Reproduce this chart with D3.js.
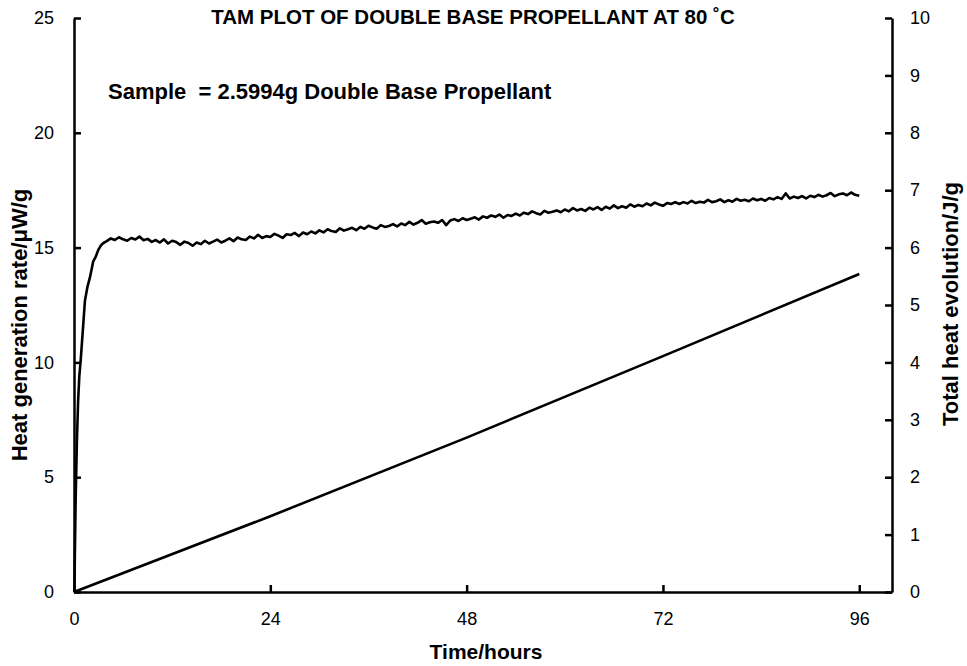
<!DOCTYPE html>
<html>
<head>
<meta charset="utf-8">
<script src="https://cdn.jsdelivr.net/npm/d3@7"></script>
<style>
  body { margin: 0; background: #fff; }
  svg { font-family: "Liberation Sans", Arial, sans-serif; }
</style>
</head>
<body>
<div id="vis"></div>
<script>
// frame
const FRAME_WIDTH = 967;
const FRAME_HEIGHT = 666;
const MARGINS = {left: 74, right: 75, top: 18, bottom: 74};
const VIS_WIDTH = FRAME_WIDTH - MARGINS.left - MARGINS.right;
const VIS_HEIGHT = FRAME_HEIGHT - MARGINS.top - MARGINS.bottom;

// data
const xTicks = [0, 24, 48, 72, 96];
const yLeftTicks = [0, 5, 10, 15, 20, 25];
const yRightTicks = [0, 1, 2, 3, 4, 5, 6, 7, 8, 9, 10];

// initial rise of heat generation rate (hours, uW/g)
const riseTime = [0, 0.05, 0.1, 0.2, 0.35, 0.5, 0.65, 0.82, 1.0, 1.34, 1.65, 1.95, 2.35, 2.65, 2.97, 3.3, 3.6];
const riseRate = [0, 0, 1.5, 4.0, 6.5, 8.3, 9.4, 10.1, 11.0, 12.7, 13.3, 13.7, 14.4, 14.6, 14.9, 15.1, 15.2];

// rest of the rate trace, one reading every half hour from 4 h
const traceStart = 4;
const traceStep = 0.5;
const traceRate = [
  15.28, 15.40, 15.33, 15.45, 15.36, 15.30, 15.42, 15.35, 15.48, 15.32,
  15.38, 15.25, 15.33, 15.22, 15.36, 15.18, 15.30, 15.24, 15.12, 15.26,
  15.20, 15.08, 15.22, 15.15, 15.30, 15.18, 15.26, 15.35, 15.22, 15.30,
  15.40, 15.28, 15.44, 15.36, 15.33, 15.48, 15.40, 15.56, 15.42, 15.50,
  15.46, 15.60, 15.52, 15.42, 15.58, 15.55, 15.64, 15.50, 15.66, 15.58,
  15.70, 15.62, 15.75, 15.66, 15.80, 15.72, 15.68, 15.84, 15.74, 15.80,
  15.86, 15.76, 15.90, 15.82, 15.95, 15.88, 15.82, 15.98, 15.90, 15.94,
  16.02, 15.92, 16.05, 15.98, 16.12, 16.00, 16.08, 16.20, 16.04, 16.10,
  16.14, 16.08, 16.20, 15.98, 16.18, 16.24, 16.16, 16.28, 16.20, 16.26,
  16.32, 16.22, 16.36, 16.30, 16.40, 16.34, 16.44, 16.30, 16.42, 16.38,
  16.48, 16.40, 16.52, 16.46, 16.58, 16.50, 16.44, 16.60, 16.52, 16.56,
  16.62, 16.54, 16.66, 16.58, 16.72, 16.62, 16.68, 16.60, 16.74, 16.66,
  16.76, 16.64, 16.78, 16.70, 16.84, 16.72, 16.80, 16.74, 16.88, 16.78,
  16.86, 16.80, 16.92, 16.84, 16.96, 16.88, 16.82, 16.94, 16.90, 16.98,
  16.90, 16.98, 16.92, 17.04, 16.94, 17.00, 16.96, 17.08, 16.98, 17.02,
  17.10, 16.98, 17.06, 17.00, 17.12, 17.04, 17.08, 17.02, 17.14, 17.06,
  17.12, 17.04, 17.16, 17.10, 17.20, 17.12, 17.36, 17.14, 17.22, 17.16,
  17.24, 17.14, 17.26, 17.20, 17.30, 17.22, 17.28, 17.38, 17.24, 17.32,
  17.36, 17.28, 17.40, 17.30, 17.26
];

// total heat evolution (hours, J/g)
const heatTime = [0, 24, 48, 72, 96];
const heatTotal = [0, 1.32, 2.69, 4.11, 5.54];

const FRAME = d3.select("#vis")
  .append("svg")
    .attr("width", FRAME_WIDTH)
    .attr("height", FRAME_HEIGHT);

const X_SCALE = d3.scaleLinear().domain([0, 100]).range([0, VIS_WIDTH]);
const Y_LEFT = d3.scaleLinear().domain([0, 25]).range([VIS_HEIGHT, 0]);
const Y_RIGHT = d3.scaleLinear().domain([0, 10]).range([VIS_HEIGHT, 0]);

const plot = FRAME.append("g")
  .attr("transform", "translate(" + MARGINS.left + "," + MARGINS.top + ")");

// build rate series
const rateData = riseTime.map((t, i) => ({t: t, v: riseRate[i]}))
  .concat(traceRate.map((v, i) => ({t: traceStart + i * traceStep, v: v})));
const heatData = heatTime.map((t, i) => ({t: t, v: heatTotal[i]}));

// axes (ticks point inward)
function styleAxis(g) {
  g.select(".domain").attr("stroke", "#000").attr("stroke-width", 2.5);
  g.selectAll(".tick line").attr("stroke", "#000").attr("stroke-width", 2.5);
  g.selectAll(".tick text").attr("fill", "#000")
    .attr("font-size", "18px").attr("font-family", "Liberation Sans, Arial, sans-serif");
}

plot.append("g")
  .attr("transform", "translate(0," + VIS_HEIGHT + ")")
  .call(d3.axisBottom(X_SCALE).tickValues(xTicks).tickSizeInner(-7).tickSizeOuter(0).tickPadding(20))
  .call(styleAxis);

plot.append("g")
  .call(d3.axisLeft(Y_LEFT).tickValues(yLeftTicks).tickSizeInner(-7).tickSizeOuter(0).tickPadding(20))
  .call(styleAxis);

plot.append("g")
  .attr("transform", "translate(" + VIS_WIDTH + ",0)")
  .call(d3.axisRight(Y_RIGHT).tickValues(yRightTicks).tickSizeInner(-7).tickSizeOuter(0).tickPadding(18))
  .call(styleAxis);

// lines
plot.append("path")
  .datum(rateData)
  .attr("fill", "none")
  .attr("stroke", "#000")
  .attr("stroke-width", 2.6)
  .attr("stroke-linejoin", "round")
  .attr("d", d3.line().x(d => X_SCALE(d.t)).y(d => Y_LEFT(d.v)));

plot.append("path")
  .datum(heatData)
  .attr("fill", "none")
  .attr("stroke", "#000")
  .attr("stroke-width", 2.6)
  .attr("d", d3.line().x(d => X_SCALE(d.t)).y(d => Y_RIGHT(d.v)));

// texts
FRAME.append("text")
  .attr("x", 473).attr("y", 24)
  .attr("text-anchor", "middle")
  .attr("font-size", "20.5px").attr("font-weight", "bold")
  .text("TAM PLOT OF DOUBLE BASE PROPELLANT AT 80 ˚C");

FRAME.append("text")
  .attr("x", 108).attr("y", 99)
  .attr("font-size", "22px").attr("font-weight", "bold")
  .attr("xml:space", "preserve")
  .text("Sample  = 2.5994g Double Base Propellant");

FRAME.append("text")
  .attr("x", 486).attr("y", 659)
  .attr("text-anchor", "middle")
  .attr("font-size", "21px").attr("font-weight", "bold")
  .text("Time/hours");

FRAME.append("text")
  .attr("transform", "translate(27,325) rotate(-90)")
  .attr("text-anchor", "middle")
  .attr("font-size", "22px").attr("font-weight", "bold")
  .text("Heat generation rate/μW/g");

FRAME.append("text")
  .attr("transform", "translate(958,304) rotate(-90)")
  .attr("text-anchor", "middle")
  .attr("font-size", "22px").attr("font-weight", "bold")
  .text("Total heat evolution/J/g");
</script>
</body>
</html>
